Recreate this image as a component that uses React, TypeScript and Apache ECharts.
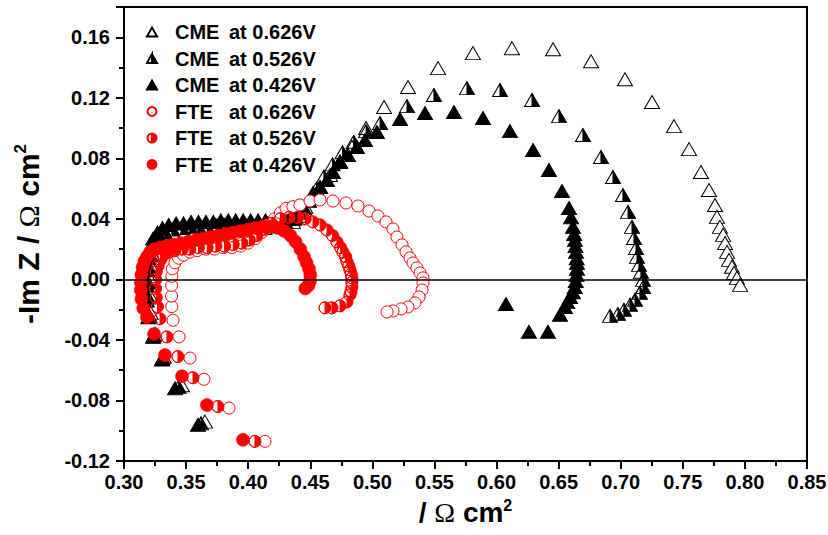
import React, { useEffect, useRef } from 'react';
import * as echarts from 'echarts';

// ---- data: [Re Z, -Im Z] in Ω cm² ----
const cme626: number[][] = [
  [0.3652, -0.094], [0.3467, -0.070], [0.332, -0.051], [0.325, -0.036],
  [0.3215, -0.022], [0.3205, -0.010], [0.3205, 0.001], [0.321, 0.010], [0.3225, 0.017], [0.325, 0.022], [0.329, 0.026], [0.334, 0.028],
  [0.341, 0.030], [0.349, 0.031], [0.357, 0.031], [0.365, 0.032], [0.373, 0.032], [0.381, 0.032], [0.389, 0.033], [0.397, 0.033],
  [0.405, 0.034], [0.413, 0.034], [0.421, 0.035], [0.429, 0.036], [0.436, 0.038],
  [0.441, 0.042], [0.446, 0.048], [0.452, 0.054], [0.458, 0.061], [0.4659, 0.069], [0.474, 0.078], [0.4836, 0.0875], [0.4949, 0.1],
  [0.5094, 0.1139], [0.5287, 0.1271], [0.5529, 0.1396], [0.581, 0.1495], [0.6124, 0.1528], [0.6455, 0.1521], [0.6761, 0.1442],
  [0.7034, 0.1323], [0.7252, 0.1172], [0.7429, 0.1013], [0.755, 0.0861], [0.7646, 0.071], [0.7711, 0.0591], [0.7759, 0.0492],
  [0.7775, 0.0413], [0.7799, 0.0347], [0.7824, 0.0294], [0.784, 0.0241], [0.7856, 0.0182], [0.7872, 0.0129], [0.7896, 0.0083],
  [0.7912, 0.0043], [0.7936, 0.001], [0.7961, -0.0036],
];

const cme526: number[][] = [
  [0.362, -0.095], [0.344, -0.071], [0.331, -0.052], [0.324, -0.037],
  [0.3205, -0.024], [0.3195, -0.012], [0.3195, -0.002], [0.32, 0.008], [0.3215, 0.016], [0.324, 0.023], [0.328, 0.028], [0.333, 0.031],
  [0.339, 0.033], [0.346, 0.034], [0.353, 0.035], [0.36, 0.035], [0.367, 0.035], [0.374, 0.036], [0.381, 0.036], [0.388, 0.036],
  [0.395, 0.036], [0.402, 0.037], [0.409, 0.037], [0.416, 0.037], [0.423, 0.038], [0.43, 0.038], [0.437, 0.040],
  [0.443, 0.045], [0.449, 0.052], [0.455, 0.060], [0.461, 0.068], [0.468, 0.076], [0.476, 0.084], [0.485, 0.091], [0.495, 0.098],
  [0.5062, 0.1033], [0.5279, 0.1145], [0.5496, 0.1218], [0.5762, 0.1264], [0.6028, 0.1251], [0.6286, 0.1185], [0.6503, 0.1079],
  [0.6696, 0.0954], [0.6841, 0.0809], [0.6938, 0.0677], [0.7018, 0.0558], [0.7059, 0.0446], [0.7091, 0.0347], [0.7107, 0.0274],
  [0.7123, 0.0208], [0.7131, 0.0149], [0.7147, 0.0096], [0.7163, 0.005], [0.718, -0.0003], [0.718, -0.005], [0.7155, -0.0089],
  [0.7115, -0.0135], [0.7075, -0.0168], [0.7026, -0.0201], [0.6978, -0.0228], [0.6914, -0.0241],
];

const cme426: number[][] = [
  [0.3596, -0.096], [0.3411, -0.072], [0.3306, -0.053], [0.3234, -0.038],
  [0.3195, -0.025], [0.3185, -0.014], [0.3185, -0.004], [0.319, 0.006], [0.3195, 0.014], [0.321, 0.021], [0.3235, 0.027], [0.327, 0.031], [0.331, 0.034],
  [0.336, 0.036], [0.342, 0.037], [0.348, 0.037], [0.354, 0.038], [0.36, 0.038], [0.366, 0.038], [0.372, 0.038], [0.378, 0.039],
  [0.384, 0.039], [0.39, 0.039], [0.396, 0.039], [0.402, 0.039], [0.408, 0.039], [0.414, 0.039], [0.42, 0.039], [0.426, 0.039],
  [0.432, 0.040], [0.438, 0.041],
  [0.445, 0.047], [0.4522, 0.0571], [0.4578, 0.0611], [0.4635, 0.0657], [0.4683, 0.071], [0.474, 0.0776], [0.4804, 0.0822],
  [0.4876, 0.0875], [0.4941, 0.0921], [0.5037, 0.0974], [0.5223, 0.106], [0.5424, 0.1099], [0.5657, 0.1106], [0.5891, 0.1066],
  [0.6108, 0.098], [0.6294, 0.0855], [0.6422, 0.0723], [0.6527, 0.0584], [0.6584, 0.0472], [0.66, 0.041], [0.6616, 0.0347],
  [0.6625, 0.030], [0.6632, 0.0261], [0.6636, 0.022], [0.664, 0.0182], [0.6645, 0.014], [0.6648, 0.0109], [0.6648, 0.007],
  [0.6644, 0.003], [0.6638, -0.001], [0.663, -0.005], [0.6615, -0.0085], [0.6592, -0.0116], [0.657, -0.015], [0.6551, -0.0182],
  [0.6511, -0.0234], [0.6414, -0.0346], [0.6261, -0.0346], [0.6076, -0.0162],
];

const fte626: number[][] = [
  [0.4135, -0.107], [0.3846, -0.085], [0.3644, -0.066], [0.3531, -0.052], [0.3443, -0.038], [0.3395, -0.027],
  [0.3385, -0.018], [0.3383, -0.011], [0.3383, -0.004], [0.3385, 0.002], [0.339, 0.007], [0.341, 0.011], [0.344, 0.014],
  [0.348, 0.016], [0.353, 0.018], [0.359, 0.019], [0.366, 0.020], [0.373, 0.020], [0.38, 0.021], [0.387, 0.021], [0.394, 0.022],
  [0.40, 0.024], [0.406, 0.027], [0.411, 0.031], [0.416, 0.036], [0.421, 0.040], [0.426, 0.044], [0.4305, 0.047], [0.436, 0.048],
  [0.4417, 0.0492], [0.4498, 0.0518], [0.4578, 0.0525], [0.4683, 0.0518], [0.4788, 0.0505], [0.4884, 0.0485], [0.4973, 0.0452],
  [0.5045, 0.0419], [0.511, 0.038], [0.5166, 0.0333], [0.5198, 0.028], [0.5239, 0.0228], [0.5271, 0.0182], [0.5303, 0.0142],
  [0.5327, 0.0109], [0.5359, 0.0076], [0.5384, 0.0043], [0.5408, 0.001], [0.5408, -0.0023], [0.54, -0.007], [0.5376, -0.0116],
  [0.5343, -0.0155], [0.5287, -0.0182], [0.5231, -0.0195], [0.5166, -0.0208], [0.5118, -0.0215],
];

const fte526: number[][] = [
  [0.4055, -0.107], [0.3757, -0.084], [0.3556, -0.065], [0.3435, -0.051], [0.3346, -0.038], [0.329, -0.026],
  [0.327, -0.018], [0.326, -0.012], [0.3255, -0.006], [0.3255, 0.0], [0.326, 0.005], [0.3275, 0.009], [0.3295, 0.013],
  [0.332, 0.016], [0.336, 0.018], [0.341, 0.019], [0.347, 0.020], [0.353, 0.020], [0.36, 0.021], [0.367, 0.021], [0.374, 0.022],
  [0.381, 0.022], [0.388, 0.023], [0.395, 0.024], [0.401, 0.026], [0.407, 0.029], [0.413, 0.033], [0.419, 0.037], [0.426, 0.040],
  [0.433, 0.041], [0.44, 0.041], [0.446, 0.040], [0.4522, 0.038], [0.458, 0.036], [0.4635, 0.0327], [0.468, 0.029], [0.4715, 0.0248],
  [0.4745, 0.021], [0.4764, 0.018], [0.4785, 0.015], [0.4796, 0.0116], [0.481, 0.009], [0.482, 0.0063], [0.483, 0.0035],
  [0.4836, 0.001], [0.4836, -0.002], [0.4836, -0.005], [0.4828, -0.008], [0.482, -0.0102], [0.4796, -0.0149], [0.474, -0.0175],
  [0.4675, -0.0188], [0.4619, -0.0188],
];

const fte426: number[][] = [
  [0.3958, -0.106], [0.3668, -0.083], [0.3467, -0.064], [0.333, -0.050], [0.3242, -0.036], [0.3185, -0.025],
  [0.3155, -0.019], [0.314, -0.013], [0.3135, -0.007], [0.3135, -0.002], [0.314, 0.003], [0.315, 0.008], [0.3165, 0.012],
  [0.3185, 0.015], [0.321, 0.018], [0.3245, 0.020], [0.329, 0.021], [0.334, 0.022], [0.34, 0.023], [0.346, 0.024], [0.352, 0.025],
  [0.358, 0.026], [0.364, 0.027], [0.37, 0.028], [0.376, 0.029], [0.382, 0.030], [0.388, 0.031], [0.394, 0.032], [0.40, 0.033],
  [0.406, 0.034], [0.412, 0.035], [0.418, 0.035], [0.424, 0.034], [0.429, 0.032], [0.434, 0.029], [0.438, 0.025], [0.442, 0.020],
  [0.445, 0.015], [0.447, 0.011], [0.449, 0.007], [0.45, 0.003], [0.4498, -0.001], [0.4485, -0.004], [0.446, -0.006],
];

const seriesNames = [
  'CME at 0.626V', 'CME at 0.526V', 'CME at 0.426V',
  'FTE at 0.626V', 'FTE at 0.526V', 'FTE at 0.426V',
];

const xMin = 0.3, xMax = 0.85, xStep = 0.05;
const yMin = -0.12, yMax = 0.18, yStep = 0.04;

const HALF_TRI = 'path://M8 0L16 14L0 14Z M8 0L0 14L8 14Z';
const HALF_CIRC = 'path://M6 0A6 6 0 1 1 6 12A6 6 0 1 1 6 0Z M6 0A6 6 0 0 0 6 12Z';

const FONT = '"Liberation Sans", Arial, sans-serif';

export default function App() {
  const ref = useRef<HTMLDivElement>(null);

  useEffect(() => {
    if (!ref.current) return;
    const chart = echarts.init(ref.current, undefined, { renderer: 'svg' });

    const triSize = [15, 13];
    const circSize = 12;

    const series: any[] = [
      {
        name: seriesNames[0], type: 'scatter', data: cme626, symbol: 'triangle', symbolSize: triSize,
        itemStyle: { color: '#ffffff', borderColor: '#000000', borderWidth: 1, opacity: 1 },
      },
      {
        name: seriesNames[1], type: 'scatter', data: cme526, symbol: HALF_TRI, symbolSize: triSize,
        itemStyle: { color: '#000000', borderColor: '#000000', borderWidth: 1, opacity: 1 },
      },
      {
        name: seriesNames[2], type: 'scatter', data: cme426, symbol: 'triangle', symbolSize: triSize,
        itemStyle: { color: '#000000', borderColor: '#000000', borderWidth: 1, opacity: 1 },
      },
      {
        name: seriesNames[3], type: 'scatter', data: fte626, symbol: 'circle', symbolSize: circSize,
        itemStyle: { color: '#ffffff', borderColor: '#ff0000', borderWidth: 1, opacity: 1 },
      },
      {
        name: seriesNames[4], type: 'scatter', data: fte526, symbol: HALF_CIRC, symbolSize: circSize,
        itemStyle: { color: '#ff0000', borderColor: '#ff0000', borderWidth: 1, opacity: 1 },
      },
      {
        name: seriesNames[5], type: 'scatter', data: fte426, symbol: 'circle', symbolSize: circSize + 1,
        itemStyle: { color: '#ff0000', borderColor: '#ff0000', borderWidth: 0.5, opacity: 1 },
        markLine: {
          silent: true,
          symbol: ['none', 'none'],
          label: { show: false },
          lineStyle: { color: '#000000', width: 1.6, type: 'solid' },
          data: [{ yAxis: 0 }],
        },
      },
    ];

    const fmt = (v: number) => (Math.abs(v) < 1e-9 ? '0.00' : v.toFixed(2));

    chart.setOption({
      animation: false,
      backgroundColor: '#ffffff',
      textStyle: { fontFamily: FONT },
      grid: {
        left: 124, right: 21, top: 7, bottom: 74,
        show: true, borderColor: '#000000', borderWidth: 2,
        containLabel: false, outerBoundsMode: 'none',
      },
      legend: {
        data: seriesNames,
        orient: 'vertical',
        left: 141, top: 17,
        itemWidth: 10, itemHeight: 9, itemGap: 6.5,
        selectedMode: false,
        formatter: (name: string) => {
          const parts = name.split(' ');
          return `{n|${parts[0]}}{v|${parts.slice(1).join(' ')}}`;
        },
        textStyle: {
          color: '#000000',
          rich: {
            n: { width: 54, padding: [0, 0, 0, 13], fontSize: 20, fontWeight: 'bold', fontFamily: FONT, lineHeight: 20, color: '#000' },
            v: { fontSize: 20, fontWeight: 'bold', fontFamily: FONT, lineHeight: 20, color: '#000' },
          },
        },
      },
      xAxis: {
        type: 'value', min: xMin, max: xMax, interval: xStep,
        name: '/ {o|Ω} cm{s|2}',
        nameLocation: 'middle', nameGap: 36,
        nameTextStyle: {
          fontSize: 28, fontWeight: 'bold', fontFamily: FONT, color: '#000', lineHeight: 30,
          rich: {
            o: { fontSize: 28, fontFamily: '"Liberation Serif", serif', fontWeight: 'normal', color: '#000', lineHeight: 30 },
            s: { fontSize: 16, fontWeight: 'bold', fontFamily: FONT, color: '#000', verticalAlign: 'top', lineHeight: 16 },
          },
        },
        axisLine: { onZero: false, lineStyle: { color: '#000', width: 2 } },
        axisTick: { show: true, inside: false, length: 8, lineStyle: { color: '#000', width: 2 } },
        minorTick: { show: true, splitNumber: 2, length: 5, lineStyle: { color: '#000', width: 2 } },
        splitLine: { show: false },
        axisLabel: {
          formatter: fmt, fontSize: 20, fontWeight: 'bold', fontFamily: FONT, color: '#000', margin: 11,
        },
      },
      yAxis: {
        type: 'value', min: yMin, max: yMax, interval: yStep,
        name: '-Im Z / {o|Ω} cm{s|2}',
        nameLocation: 'middle', nameGap: 80, nameRotate: 90,
        nameTextStyle: {
          fontSize: 30, fontWeight: 'bold', fontFamily: FONT, color: '#000', lineHeight: 32,
          rich: {
            o: { fontSize: 30, fontFamily: '"Liberation Serif", serif', fontWeight: 'normal', color: '#000', lineHeight: 32 },
            s: { fontSize: 17, fontWeight: 'bold', fontFamily: FONT, color: '#000', verticalAlign: 'top', lineHeight: 17 },
          },
        },
        axisLine: { onZero: false, lineStyle: { color: '#000', width: 2 } },
        axisTick: { show: true, inside: false, length: 8, lineStyle: { color: '#000', width: 2 } },
        minorTick: { show: true, splitNumber: 2, length: 5, lineStyle: { color: '#000', width: 2 } },
        splitLine: { show: false },
        axisLabel: {
          formatter: fmt, fontSize: 20, fontWeight: 'bold', fontFamily: FONT, color: '#000', margin: 14,
          showMaxLabel: false,
        },
      },
      series,
    });

    return () => chart.dispose();
  }, []);

  return (
    <div
      ref={ref}
      style={{ position: 'fixed', left: 0, top: 0, width: 828, height: 535, background: '#fff' }}
    />
  );
}
